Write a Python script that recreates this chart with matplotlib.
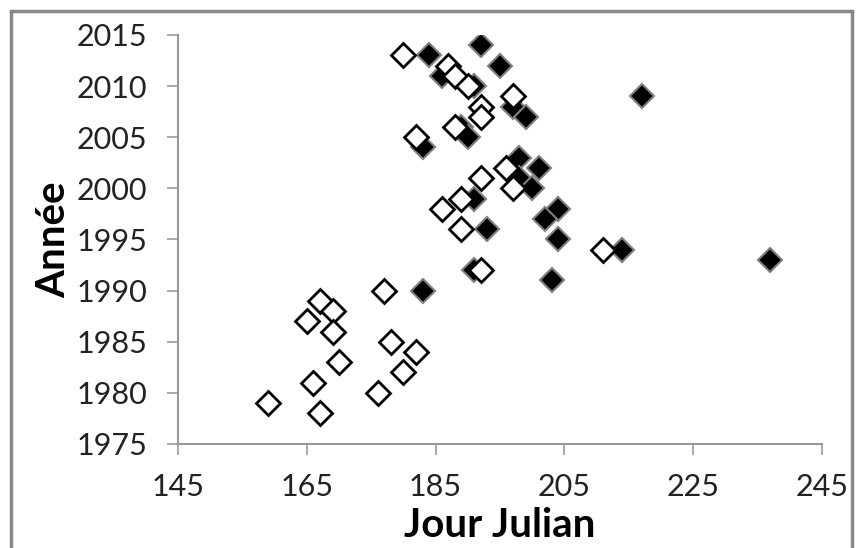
import matplotlib.pyplot as plt
from matplotlib.patches import Rectangle

# open diamonds (jour julien, annee)
open_day = [180, 187, 188, 190, 197, 192, 192, 188, 182, 196, 192, 197, 189, 186,
            189, 211, 192, 177, 167, 169, 165, 169, 178, 182, 170, 180, 166, 176,
            159, 167]
open_year = [2013, 2012, 2011, 2010, 2009, 2008, 2007, 2006, 2005, 2002, 2001, 2000,
             1999, 1998, 1996, 1994, 1992, 1990, 1989, 1988, 1987, 1986, 1985, 1984,
             1983, 1982, 1981, 1980, 1979, 1978]

# filled diamonds
fill_day = [192, 184, 195, 186, 191, 217, 197, 199, 189, 190, 183, 198, 201, 198,
            200, 191, 204, 202, 193, 204, 214, 237, 191, 203, 183]
fill_year = [2014, 2013, 2012, 2011, 2010, 2009, 2008, 2007, 2006, 2005, 2004, 2003,
             2002, 2001, 2000, 1999, 1998, 1997, 1996, 1995, 1994, 1993, 1992, 1991,
             1990]

x_ticks = [145, 165, 185, 205, 225, 245]
y_ticks = [1975, 1980, 1985, 1990, 1995, 2000, 2005, 2010, 2015]

plt.rcParams['font.family'] = ['Lato', 'DejaVu Sans']

fig = plt.figure(figsize=(8.61, 5.48), dpi=100)
ax = fig.add_axes([178 / 861, 104 / 548, (822 - 178) / 861, (444 - 35) / 548])

ax.plot(fill_day, fill_year, 'D', color='black', markeredgecolor='#7f7f7f',
        markeredgewidth=1.5, markersize=12.5, linestyle='none')
ax.plot(open_day, open_year, 'D', markerfacecolor='white', markeredgecolor='black',
        markeredgewidth=2, markersize=12.5, linestyle='none')

ax.set_xlim(145, 245)
ax.set_ylim(1975, 2015)
ax.set_xticks(x_ticks)
ax.set_yticks(y_ticks)
ax.tick_params(labelsize=22, colors='#222222', length=8, width=1.2)
ax.tick_params(axis='both', color='#999999')
ax.tick_params(axis='x', pad=13)
ax.tick_params(axis='y', pad=14)
for s in ['top', 'right']:
    ax.spines[s].set_visible(False)
for s in ['left', 'bottom']:
    ax.spines[s].set_color('#999999')
    ax.spines[s].set_linewidth(1.5)

ax.set_xlabel('Jour Julian', fontsize=29, fontweight='bold', labelpad=4)
ax.set_ylabel('Année', fontsize=29, fontweight='bold', labelpad=3)

# outer chart frame
fig.patches.append(Rectangle((11 / 861, -0.05), (852 - 11) / 861, 1.05 - 11 / 548,
                             transform=fig.transFigure, fill=False,
                             edgecolor='#888888', linewidth=2.5))

fig.savefig('out.png', dpi=100)
